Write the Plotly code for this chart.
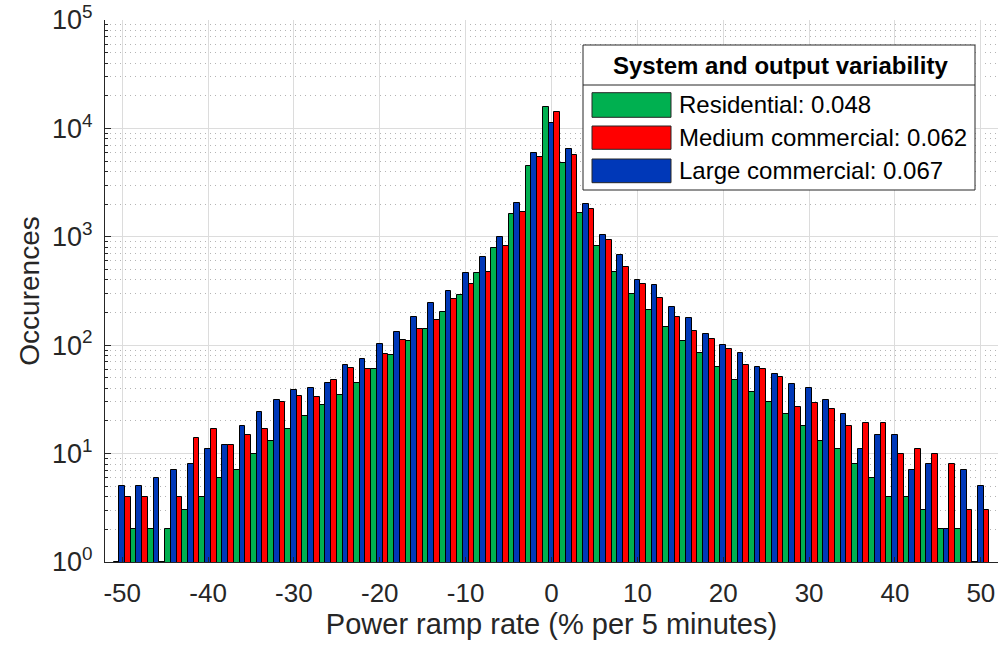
import plotly.graph_objects as go

# Ramp-rate bin centres (% per 5 minutes)
ramp_rate = list(range(-50, 51, 2))

# Occurrence counts per bin
residential = [1, 2, 2, 2, 3, 4, 6, 7, 10, 13,
               17, 22, 28, 35, 45, 60, 81, 109, 142, 202,
               290, 462, 794, 1614, 4529, 15850, 4766, 1659, 817, 473,
               299, 210, 147, 109, 85, 63, 48, 37, 30, 23,
               18, 13, 11, 8, 6, 4, 4, 3, 2, 2, 1]
medium_commercial = [4, 4, 1, 4, 14, 17, 12, 15, 17, 30,
                     34, 33, 48, 61, 60, 83, 112, 142, 172, 267,
                     369, 473, 817, 1683, 5486, 14170, 5650, 1803, 934, 527,
                     369, 274, 181, 135, 115, 92, 65, 60, 51, 27,
                     29, 26, 18, 19, 19, 10, 11, 10, 8, 3, 3]
large_commercial = [5, 5, 6, 7, 8, 11, 12, 18, 24, 31,
                    39, 40, 45, 65, 74, 103, 132, 182, 247, 315,
                    460, 656, 990, 2066, 5970, 11220, 6457, 2009, 1040, 675,
                    402, 360, 226, 178, 128, 100, 85, 63, 54, 44,
                    40, 31, 23, 11, 15, 15, 7, 8, 2, 7, 5]

series_names = ["Residential", "Medium commercial", "Large commercial"]
variability = [0.048, 0.062, 0.067]
series_colors = ["#00B050", "#FF0000", "#0038B8"]

x_ticks = list(range(-50, 51, 10))
y_ticks = [1, 10, 100, 1000, 10000, 100000]
y_ticktext = ["10<sup>%d</sup>" % k for k in range(6)]

legend_title = "System and output variability"
x_title = "Power ramp rate (% per 5 minutes)"
y_title = "Occurences"

FONT = "Liberation Sans, Arial, Helvetica, sans-serif"
INK = "#262626"

series_values = [residential, medium_commercial, large_commercial]

fig = go.Figure()
# drawing order inside each group: residential, large, medium
for idx in (0, 2, 1):
    fig.add_trace(go.Bar(
        x=ramp_rate, y=series_values[idx], name=series_names[idx],
        marker=dict(color=series_colors[idx], line=dict(color="#000000", width=1)),
        showlegend=False,
    ))

# plot-area geometry in pixels (used for the boxed legend)
W, H = 999, 646
ML, MR, MT, MB = 105, 1, 20, 84
PW, PH = W - ML - MR, H - MT - MB


def px(xp):
    return (xp - ML) / PW


def py(yp):
    return (H - MB - yp) / PH


shapes = []
annotations = []
# legend frame and title separator
shapes.append(dict(type="rect", xref="paper", yref="paper",
                   x0=px(583), x1=px(975), y0=py(190), y1=py(45),
                   fillcolor="white", line=dict(color=INK, width=1)))
shapes.append(dict(type="line", xref="paper", yref="paper",
                   x0=px(583), x1=px(975), y0=py(85), y1=py(85),
                   line=dict(color=INK, width=1)))
annotations.append(dict(xref="paper", yref="paper", x=px(780), y=py(65),
                        text="<b>%s</b>" % legend_title, showarrow=False,
                        xanchor="center", yanchor="middle",
                        font=dict(family=FONT, size=24, color="#000000")))
swatch_rows = [(92.7, 117.3), (126, 149.3), (159, 182.7)]
for i, (top, bot) in enumerate(swatch_rows):
    shapes.append(dict(type="rect", xref="paper", yref="paper",
                       x0=px(592), x1=px(671), y0=py(bot), y1=py(top),
                       fillcolor=series_colors[i], line=dict(color=INK, width=1)))
    annotations.append(dict(xref="paper", yref="paper", x=px(677), y=py((top + bot) / 2),
                            text="%s: %.3f" % (series_names[i], variability[i]),
                            showarrow=False, xanchor="left", yanchor="middle",
                            font=dict(family=FONT, size=24, color="#000000")))

fig.update_layout(
    width=W, height=H,
    margin=dict(l=ML, r=MR, t=MT, b=MB, pad=0),
    paper_bgcolor="white", plot_bgcolor="white",
    barmode="group", bargap=0, bargroupgap=0,
    font=dict(family=FONT, size=26, color=INK),
    shapes=shapes, annotations=annotations,
    xaxis=dict(
        range=[-52, 52], tickvals=x_ticks, ticktext=[str(v) for v in x_ticks],
        showgrid=True, gridcolor="#DCDCDC", gridwidth=1, zeroline=False,
        showline=True, linecolor=INK, linewidth=1,
        ticks="inside", ticklen=5, tickcolor=INK, ticklabelstandoff=8,
        tickfont=dict(family=FONT, size=26, color=INK),
        title=dict(text=x_title, font=dict(family=FONT, size=29, color=INK), standoff=6),
    ),
    yaxis=dict(
        type="log", range=[0, 5], tickvals=y_ticks, ticktext=y_ticktext,
        showgrid=True, gridcolor="#DCDCDC", gridwidth=1, zeroline=False,
        showline=True, linecolor=INK, linewidth=1,
        ticks="inside", ticklen=6, tickcolor=INK, ticklabelstandoff=6,
        tickfont=dict(family=FONT, size=27, color=INK),
        minor=dict(dtick="D1", showgrid=True, gridcolor="#B4B4B4", griddash="1px,4px",
                   gridwidth=1, ticks="inside", ticklen=3, tickcolor=INK),
        title=dict(text=y_title, font=dict(family=FONT, size=28, color=INK), standoff=4),
    ),
)

fig.write_html("out.html")
